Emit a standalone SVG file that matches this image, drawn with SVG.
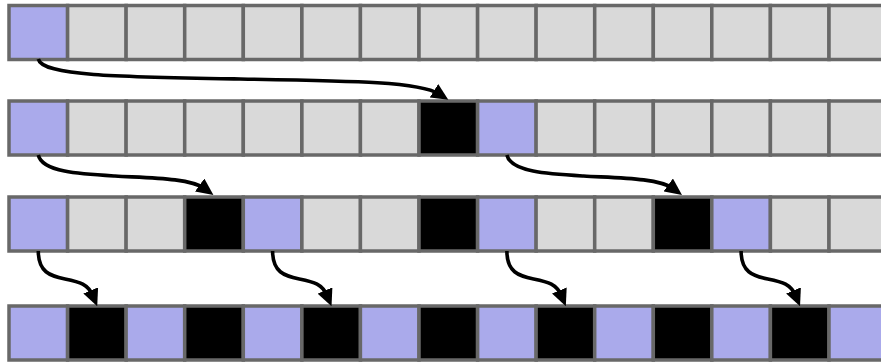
<svg xmlns="http://www.w3.org/2000/svg" width="881" height="362" viewBox="0 0 881 362">
<style>
.c rect{stroke:#686868;stroke-width:3.5}
.g{fill:#d9d9d9}.p{fill:#aaaaeb}.b{fill:#000}
.a{fill:none;stroke:#000;stroke-width:3.6;marker-end:url(#ah)}
</style>
<defs>
<marker id="ah" viewBox="0 0 17 16" markerWidth="17" markerHeight="16" markerUnits="userSpaceOnUse" refX="6" refY="8" orient="auto">
<path d="M0,0 L17,8 L0,16 z" fill="#000"/>
</marker>
</defs>
<g id="row1" class="c">
<g id="r1c0"><rect class="p" x="9" y="5.5" width="58.6" height="54"/></g>
<g id="r1c1"><rect class="g" x="67.6" y="5.5" width="58.6" height="54"/></g>
<g id="r1c2"><rect class="g" x="126.1" y="5.5" width="58.6" height="54"/></g>
<g id="r1c3"><rect class="g" x="184.7" y="5.5" width="58.6" height="54"/></g>
<g id="r1c4"><rect class="g" x="243.3" y="5.5" width="58.6" height="54"/></g>
<g id="r1c5"><rect class="g" x="301.9" y="5.5" width="58.6" height="54"/></g>
<g id="r1c6"><rect class="g" x="360.4" y="5.5" width="58.6" height="54"/></g>
<g id="r1c7"><rect class="g" x="419" y="5.5" width="58.6" height="54"/></g>
<g id="r1c8"><rect class="g" x="477.6" y="5.5" width="58.6" height="54"/></g>
<g id="r1c9"><rect class="g" x="536.1" y="5.5" width="58.6" height="54"/></g>
<g id="r1c10"><rect class="g" x="594.7" y="5.5" width="58.6" height="54"/></g>
<g id="r1c11"><rect class="g" x="653.3" y="5.5" width="58.6" height="54"/></g>
<g id="r1c12"><rect class="g" x="711.8" y="5.5" width="58.6" height="54"/></g>
<g id="r1c13"><rect class="g" x="770.4" y="5.5" width="58.6" height="54"/></g>
<g id="r1c14"><rect class="g" x="829" y="5.5" width="58.6" height="54"/></g>
</g>
<g id="row2" class="c">
<g id="r2c0"><rect class="p" x="9" y="101" width="58.6" height="54"/></g>
<g id="r2c1"><rect class="g" x="67.6" y="101" width="58.6" height="54"/></g>
<g id="r2c2"><rect class="g" x="126.1" y="101" width="58.6" height="54"/></g>
<g id="r2c3"><rect class="g" x="184.7" y="101" width="58.6" height="54"/></g>
<g id="r2c4"><rect class="g" x="243.3" y="101" width="58.6" height="54"/></g>
<g id="r2c5"><rect class="g" x="301.9" y="101" width="58.6" height="54"/></g>
<g id="r2c6"><rect class="g" x="360.4" y="101" width="58.6" height="54"/></g>
<g id="r2c7"><rect class="b" x="419" y="101" width="58.6" height="54"/></g>
<g id="r2c8"><rect class="p" x="477.6" y="101" width="58.6" height="54"/></g>
<g id="r2c9"><rect class="g" x="536.1" y="101" width="58.6" height="54"/></g>
<g id="r2c10"><rect class="g" x="594.7" y="101" width="58.6" height="54"/></g>
<g id="r2c11"><rect class="g" x="653.3" y="101" width="58.6" height="54"/></g>
<g id="r2c12"><rect class="g" x="711.8" y="101" width="58.6" height="54"/></g>
<g id="r2c13"><rect class="g" x="770.4" y="101" width="58.6" height="54"/></g>
<g id="r2c14"><rect class="g" x="829" y="101" width="58.6" height="54"/></g>
</g>
<g id="row3" class="c">
<g id="r3c0"><rect class="p" x="9" y="197" width="58.6" height="54"/></g>
<g id="r3c1"><rect class="g" x="67.6" y="197" width="58.6" height="54"/></g>
<g id="r3c2"><rect class="g" x="126.1" y="197" width="58.6" height="54"/></g>
<g id="r3c3"><rect class="b" x="184.7" y="197" width="58.6" height="54"/></g>
<g id="r3c4"><rect class="p" x="243.3" y="197" width="58.6" height="54"/></g>
<g id="r3c5"><rect class="g" x="301.9" y="197" width="58.6" height="54"/></g>
<g id="r3c6"><rect class="g" x="360.4" y="197" width="58.6" height="54"/></g>
<g id="r3c7"><rect class="b" x="419" y="197" width="58.6" height="54"/></g>
<g id="r3c8"><rect class="p" x="477.6" y="197" width="58.6" height="54"/></g>
<g id="r3c9"><rect class="g" x="536.1" y="197" width="58.6" height="54"/></g>
<g id="r3c10"><rect class="g" x="594.7" y="197" width="58.6" height="54"/></g>
<g id="r3c11"><rect class="b" x="653.3" y="197" width="58.6" height="54"/></g>
<g id="r3c12"><rect class="p" x="711.8" y="197" width="58.6" height="54"/></g>
<g id="r3c13"><rect class="g" x="770.4" y="197" width="58.6" height="54"/></g>
<g id="r3c14"><rect class="g" x="829" y="197" width="58.6" height="54"/></g>
</g>
<g id="row4" class="c">
<g id="r4c0"><rect class="p" x="9" y="306" width="58.6" height="54"/></g>
<g id="r4c1"><rect class="b" x="67.6" y="306" width="58.6" height="54"/></g>
<g id="r4c2"><rect class="p" x="126.1" y="306" width="58.6" height="54"/></g>
<g id="r4c3"><rect class="b" x="184.7" y="306" width="58.6" height="54"/></g>
<g id="r4c4"><rect class="p" x="243.3" y="306" width="58.6" height="54"/></g>
<g id="r4c5"><rect class="b" x="301.9" y="306" width="58.6" height="54"/></g>
<g id="r4c6"><rect class="p" x="360.4" y="306" width="58.6" height="54"/></g>
<g id="r4c7"><rect class="b" x="419" y="306" width="58.6" height="54"/></g>
<g id="r4c8"><rect class="p" x="477.6" y="306" width="58.6" height="54"/></g>
<g id="r4c9"><rect class="b" x="536.1" y="306" width="58.6" height="54"/></g>
<g id="r4c10"><rect class="p" x="594.7" y="306" width="58.6" height="54"/></g>
<g id="r4c11"><rect class="b" x="653.3" y="306" width="58.6" height="54"/></g>
<g id="r4c12"><rect class="p" x="711.8" y="306" width="58.6" height="54"/></g>
<g id="r4c13"><rect class="b" x="770.4" y="306" width="58.6" height="54"/></g>
<g id="r4c14"><rect class="p" x="829" y="306" width="58.6" height="54"/></g>
</g>
<g id="connectors">
<path class="a" d="M38.3,59 C42,76 120,77 240,79 S420,82 439,94"/>
<path class="a" d="M38.3,155 C42,172 80,174 115,176 S190,178 204.5,188.5"/>
<path class="a" d="M506.9,155 C510.6,172 548.6,174 583.6,176 S658.6,178 673.1,188.5"/>
<path class="a" d="M38.3,251 C38.3,272 50,276 65,279 S88,284 93,296"/>
<path class="a" d="M272.6,251 C272.6,272 284.3,276 299.3,279 S322.3,284 327.3,296"/>
<path class="a" d="M506.9,251 C506.9,272 518.6,276 533.6,279 S556.6,284 561.6,296"/>
<path class="a" d="M741.1,251 C741.1,272 752.8,276 767.8,279 S790.8,284 795.8,296"/>
</g>
</svg>
